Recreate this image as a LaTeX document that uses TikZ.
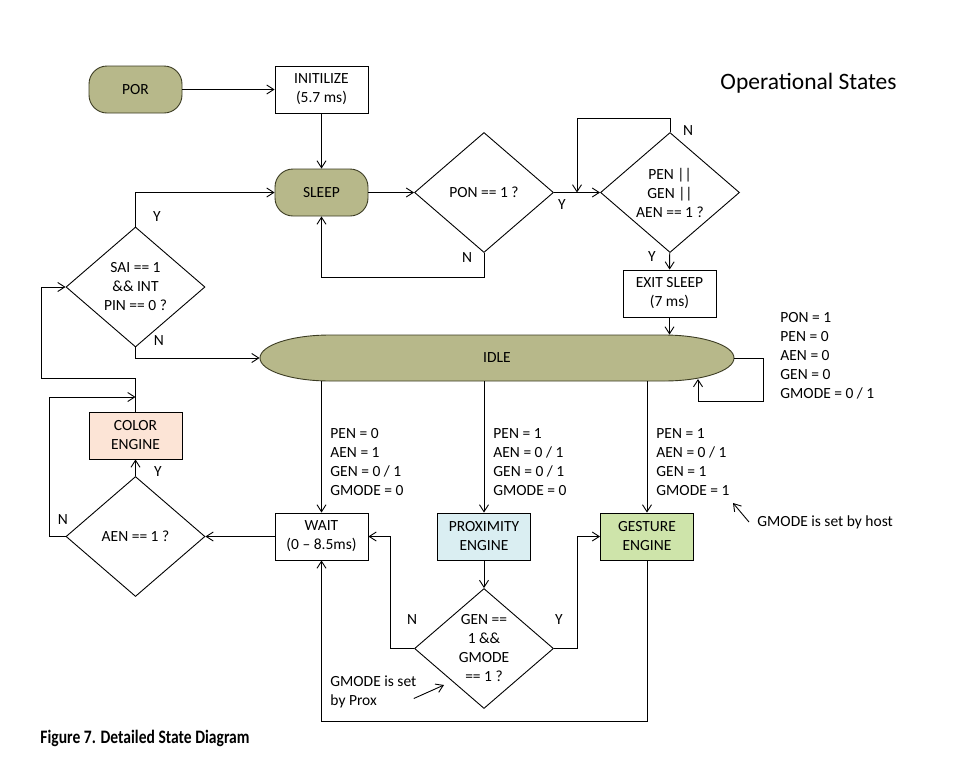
\documentclass[tikz,border=0pt]{standalone}
\usepackage{fontspec}
\setmainfont{Carlito}
\newfontfamily\capfont[FakeStretch=0.82]{Carlito}
\usetikzlibrary{arrows.meta,shapes.geometric}
\definecolor{olivefill}{RGB}{183,184,138}
\definecolor{oliveline}{RGB}{60,60,35}
\definecolor{colorfill}{RGB}{252,228,214}
\definecolor{proxfill}{RGB}{218,238,242}
\definecolor{gestfill}{RGB}{206,228,170}

\begin{document}
\begin{tikzpicture}[x=1pt,y=-1pt,line width=0.9pt,>={Straight Barb[length=7pt,width=9pt]}]
\tikzstyle{every node}=[font=\fontsize{15.5}{19}\selectfont, align=center, inner sep=0pt]
\tikzstyle{state}=[draw=oliveline, rectangle, rounded corners=18pt, fill=olivefill, minimum width=93pt, minimum height=47pt]
\tikzstyle{task}=[draw, rectangle, minimum width=93pt, minimum height=47pt]
\tikzstyle{test}=[draw, diamond, aspect=1.16, minimum width=139pt, minimum height=120pt]
\tikzstyle{cond}=[align=left, anchor=west]
\useasboundingbox (0,0) rectangle (967,772);
% states and tests
\draw (135.5,89.5) node (por) [state] {POR};
\draw (321.5,89.5) node (init) [task] {INITILIZE\\(5.7 ms)};
\draw (321.5,192.5) node (sleep) [state] {SLEEP};
\draw (484,192.5) node (pon) [test] {PON == 1 ?};
\draw (670,192.5) node (pen) [test] {PEN ||\\GEN ||\\AEN == 1 ?};
\draw (669.5,293.5) node (exitsleep) [task] {EXIT SLEEP\\(7 ms)};
\draw (135.5,287) node (sai) [test] {SAI == 1\\\&\& INT\\PIN == 0 ?};
\draw[draw=oliveline, fill=olivefill] (330,335) -- (664,335) arc[start angle=90, end angle=-90, x radius=70pt, y radius=23pt]
  -- (330,381) arc[start angle=270, end angle=90, x radius=70pt, y radius=23pt] -- cycle;
\draw (497,358) node (idle) [minimum width=474pt, minimum height=46pt] {IDLE};
\draw (135.5,435.5) node (color) [task, fill=colorfill] {COLOR\\ENGINE};
\draw (135.5,536.5) node (aen) [test] {AEN == 1 ?};
\draw (321.5,536.5) node (wait) [task] {WAIT\\(0 – 8.5ms)};
\draw (484,536.5) node (prox) [task, fill=proxfill] {PROXIMITY\\ENGINE};
\draw (647,536.5) node (gest) [task, fill=gestfill] {GESTURE\\ENGINE};
\draw (484,648.5) node (gen) [test] {GEN ==\\1 \&\&\\GMODE\\== 1 ?};
% texts
\draw (780,355.5) node (idlecond) [cond] {PON = 1\\PEN = 0\\AEN = 0\\GEN = 0\\GMODE = 0 / 1};
\draw (330,462) node (waitcond) [cond] {PEN = 0\\AEN = 1\\GEN = 0 / 1\\GMODE = 0};
\draw (493,462) node (proxcond) [cond] {PEN = 1\\AEN = 0 / 1\\GEN = 0 / 1\\GMODE = 0};
\draw (656,462) node (gestcond) [cond] {PEN = 1\\AEN = 0 / 1\\GEN = 1\\GMODE = 1};
\draw (757,522) node (hostnote) [anchor=west] {GMODE is set by host};
\draw (330,691.5) node (proxnote) [cond] {GMODE is set\\by Prox};
\draw (897,83) node (title) [anchor=east, font=\fontsize{23.5}{28}\selectfont] {Operational States};
\draw (40,738) node (caption) [anchor=west, font=\capfont\bfseries\fontsize{19}{22}\selectfont] {Figure 7. Detailed State Diagram};
% Y / N
\draw (157,217) node (saiy) {Y};
\draw (159,341) node (sain) {N};
\draw (562,205) node (pony) {Y};
\draw (467,258) node (ponn) {N};
\draw (688,131) node (penn) {N};
\draw (652,257) node (peny) {Y};
\draw (158,472) node (aeny) {Y};
\draw (63,520) node (aenn) {N};
\draw (412,620) node (genn) {N};
\draw (559,620) node (geny) {Y};
\coordinate (penjoin) at (577,192.5);
\coordinate (idleloop) at (698,379);
\coordinate (colorjoin) at (135.5,397);
\coordinate (hosttip) at (733,503);
\coordinate (proxtip) at (444,685);
% connectors
\draw[->] (por) -- (init);
\draw[->] (init) -- (sleep);
\draw[->] (sleep) -- (pon);
\draw[->] (pon) -- (pen);
\draw[->] (pon.south) -- ++(0,24) -| (sleep.south);
\draw[->] (pen.north) -- ++(0,-14) -| (penjoin);
\draw[->] (pen) -- (exitsleep);
\draw[->] (exitsleep) -- (exitsleep |- idle.north);
\draw[->] (idle.east) -- ++(29,0) -- ++(0,43) -| (idleloop);
\draw[->] (sai.north) |- (sleep.west);
\draw[->] (sai.south) |- (idle.west);
\draw[->] (idle.south -| wait) -- (wait);
\draw[->] (idle.south -| prox) -- (prox);
\draw[->] (idle.south -| gest) -- (gest);
\draw[->] (wait) -- (aen);
\draw[->] (aen) -- (color);
\draw[->] (aen.west) -- ++(-16,0) |- (colorjoin);
\draw[->] (color.north) -- ++(0,-33) -| ([xshift=-24pt]sai.west) -- (sai.west);
\draw[->] (prox) -- (gen);
\draw[->] (gen.west) -- ++(-24,0) |- (wait.east);
\draw[->] (gen.east) -- ++(23,0) |- (gest.west);
\draw[->] (gest.south) -- ++(0,161) -| (wait.south);
\draw[->] ([xshift=-8pt]hostnote.west) -- (hosttip);
\draw[->] ([xshift=-3pt,yshift=-7pt]proxnote.east) -- (proxtip);
\end{tikzpicture}
\end{document}
